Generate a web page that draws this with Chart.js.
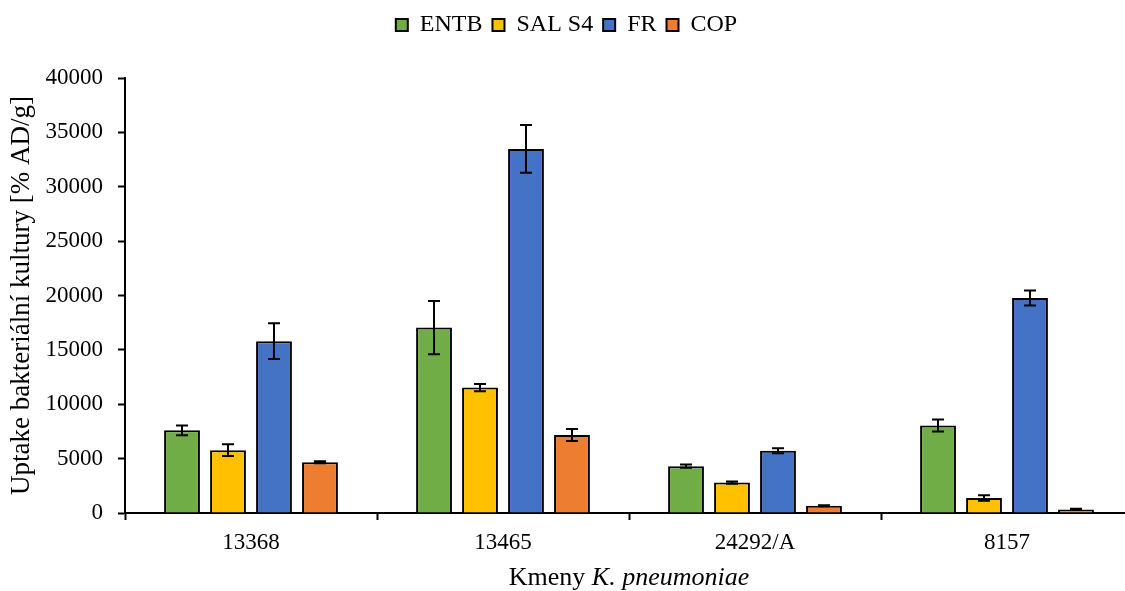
<!DOCTYPE html>
<html>
<head>
<meta charset="utf-8">
<script src="https://cdn.jsdelivr.net/npm/chart.js@4"></script>
<style>
    html, body { margin: 0; padding: 0; background: #fff; overflow: hidden; }
    #wrap { width: 1135px; height: 591px; }
</style>
</head>
<body>
<div id="wrap"><canvas id="chart"></canvas></div>
<script>
// Data
const strains = ['13368', '13465', '24292/A', '8157'];

const entb = [7600, 17050, 4300, 8050];
const sal = [5780, 11530, 2800, 1380];
const fr = [15800, 33480, 5720, 19770];
const cop = [4670, 7170, 670, 330];

// Error bars (+/-)
const entbErr = [450, 2450, 150, 550];
const salErr = [550, 330, 100, 250];
const frErr = [1650, 2200, 230, 680];
const copErr = [100, 550, 40, 50];

const FONT = "'Liberation Serif', 'Times New Roman', serif";

// Draws error bars from the dataset's errors array
const errorBarPlugin = {
    id: 'errorBars',
    afterDatasetsDraw(chart) {
        const ctx = chart.ctx;
        const yScale = chart.scales.y;
        ctx.save();
        ctx.strokeStyle = '#000';
        ctx.lineWidth = 2;
        chart.data.datasets.forEach((ds, di) => {
            const meta = chart.getDatasetMeta(di);
            meta.data.forEach((bar, i) => {
                const v = ds.data[i];
                const err = ds.errors[i];
                const top = yScale.getPixelForValue(v + err);
                const bottom = yScale.getPixelForValue(v - err);
                const x = bar.x;
                ctx.beginPath();
                ctx.moveTo(x, top);
                ctx.lineTo(x, bottom);
                ctx.moveTo(x - 6, top);
                ctx.lineTo(x + 6, top);
                ctx.moveTo(x - 6, bottom);
                ctx.lineTo(x + 6, bottom);
                ctx.stroke();
            });
        });
        ctx.restore();
    }
};

// X axis title with italic species name
const xTitlePlugin = {
    id: 'xTitle',
    afterDraw(chart) {
        const ctx = chart.ctx;
        const area = chart.chartArea;
        const part1 = 'Kmeny ';
        const part2 = 'K. pneumoniae';
        ctx.save();
        ctx.fillStyle = '#000';
        ctx.textBaseline = 'alphabetic';
        ctx.font = `26px ${FONT}`;
        const w1 = ctx.measureText(part1).width;
        ctx.font = `italic 26px ${FONT}`;
        const w2 = ctx.measureText(part2).width;
        const x = (area.left + area.right) / 2 - (w1 + w2) / 2;
        const y = 585;
        ctx.font = `26px ${FONT}`;
        ctx.fillText(part1, x, y);
        ctx.font = `italic 26px ${FONT}`;
        ctx.fillText(part2, x + w1, y);
        ctx.restore();
    }
};

// Legend height control
const legendHeightPlugin = {
    id: 'legendHeight',
    beforeInit(chart) {
        const origFit = chart.legend.fit;
        chart.legend.fit = function () {
            origFit.bind(chart.legend)();
            this.height = 75;
        };
    }
};

function makeSet(label, data, errors, color) {
    return {
        label: label,
        data: data,
        errors: errors,
        backgroundColor: color,
        borderColor: '#000',
        borderWidth: 2,
        categoryPercentage: 0.73,
        barPercentage: 0.78
    };
}

new Chart(document.getElementById('chart'), {
    type: 'bar',
    data: {
        labels: strains,
        datasets: [
            makeSet('ENTB', entb, entbErr, '#70AD47'),
            makeSet('SAL S4', sal, salErr, '#FFC000'),
            makeSet('FR', fr, frErr, '#4472C4'),
            makeSet('COP', cop, copErr, '#ED7D31')
        ]
    },
    options: {
        responsive: true,
        maintainAspectRatio: false,
        animation: false,
        layout: {
            padding: { top: 3, right: 2, left: 0, bottom: 0 }
        },
        plugins: {
            legend: {
                position: 'top',
                labels: {
                    boxWidth: 12,
                    boxHeight: 12,
                    padding: 10,
                    color: '#000',
                    font: { family: FONT, size: 24 }
                }
            },
            tooltip: { enabled: false }
        },
        scales: {
            x: {
                grid: {
                    offset: true,
                    drawOnChartArea: false,
                    drawTicks: true,
                    tickLength: 7,
                    tickWidth: 2,
                    tickColor: '#000'
                },
                border: { display: true, color: '#000', width: 2 },
                ticks: {
                    color: '#000',
                    padding: 9,
                    font: { family: FONT, size: 23 }
                },
                afterFit(scale) {
                    scale.height = 78;
                }
            },
            y: {
                min: 0,
                max: 40000,
                grid: {
                    drawOnChartArea: false,
                    drawTicks: true,
                    tickLength: 7,
                    tickWidth: 2,
                    tickColor: '#000'
                },
                border: { display: true, color: '#000', width: 2 },
                ticks: {
                    stepSize: 5000,
                    color: '#000',
                    padding: 15,
                    font: { family: FONT, size: 23 },
                    callback: (value) => String(value)
                },
                title: {
                    display: true,
                    text: 'Uptake bakteriální kultury [% AD/g]',
                    color: '#000',
                    padding: { top: 6, bottom: 0 },
                    font: { family: FONT, size: 27 }
                },
                afterFit(scale) {
                    scale.width = 125;
                }
            }
        }
    },
    plugins: [errorBarPlugin, xTitlePlugin, legendHeightPlugin]
});
</script>
</body>
</html>
